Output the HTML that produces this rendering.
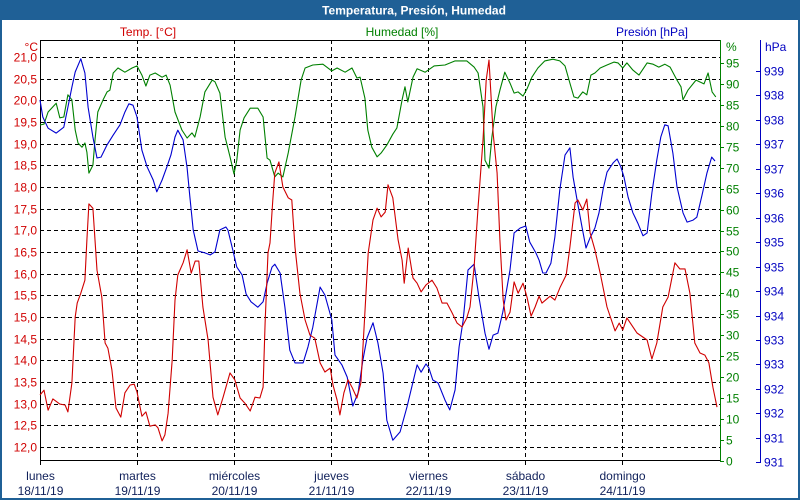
<!DOCTYPE html>
<html><head><meta charset="utf-8">
<style>
html,body{margin:0;padding:0;background:#fff;}
#wrap{position:relative;width:800px;height:500px;overflow:hidden;font-family:"Liberation Sans",sans-serif;}
svg text{font-family:"Liberation Sans",sans-serif;font-size:12px;}
</style></head>
<body>
<div id="wrap">
<svg id="chart" width="800" height="500" viewBox="0 0 800 500">
<rect x="0" y="0" width="800" height="500" fill="#ffffff"/>
<rect x="0" y="0" width="800" height="20" fill="#1f6096"/>
<text x="414" y="14.5" text-anchor="middle" fill="#ffffff" font-weight="bold">Temperatura, Presión, Humedad</text>
<rect x="1" y="1" width="798" height="498" fill="none" stroke="#1f6096" stroke-width="2"/>
<text x="148" y="36" text-anchor="middle" fill="#d00000">Temp. [°C]</text>
<text x="402" y="36" text-anchor="middle" fill="#008000">Humedad [%]</text>
<text x="652" y="36" text-anchor="middle" fill="#0000c0">Presión [hPa]</text>
<text x="38" y="51" text-anchor="end" fill="#d00000">°C</text>
<text x="726" y="51" fill="#008000">%</text>
<text x="765" y="51" fill="#0000c0">hPa</text>
<g id="grid"></g>
<g id="axes"></g>
<g id="series"></g>
</svg>
</div>
<script>
// ---- data ----
const dayNames = ["lunes","martes","miércoles","jueves","viernes","sábado","domingo"];
const dayDates = ["18/11/19","19/11/19","20/11/19","21/11/19","22/11/19","23/11/19","24/11/19"];
const tempTicks = ["12,0","12,5","13,0","13,5","14,0","14,5","15,0","15,5","16,0","16,5","17,0","17,5","18,0","18,5","19,0","19,5","20,0","20,5","21,0"];
const tempTickValues = [12,12.5,13,13.5,14,14.5,15,15.5,16,16.5,17,17.5,18,18.5,19,19.5,20,20.5,21];
const humTickValues = [0,5,10,15,20,25,30,35,40,45,50,55,60,65,70,75,80,85,90,95];
const presTickValues = [931,931.5,932,932.5,933,933.5,934,934.5,935,935.5,936,936.5,937,937.5,938,938.5,939];

const tempHours = [0,1.0,2.0,3.2,4.9,6.2,6.9,7.9,8.7,9.2,10.1,11.1,11.6,12.1,13.1,14.1,15.3,16.1,16.8,17.8,18.8,20.0,21.0,22.3,23.3,24.0,25.2,26.2,27.2,28.5,29.2,30.2,30.9,31.7,32.7,33.4,34.1,35.4,36.4,37.4,38.4,39.3,40.3,41.6,42.8,44.0,45.3,47.0,48.2,49.5,50.7,52.0,53.2,54.4,55.2,55.7,56.4,56.9,57.6,58.1,59.1,60.1,61.4,62.3,63.1,64.3,65.6,66.8,68.0,69.3,70.5,71.8,72.5,73.5,74.2,75.2,76.2,77.2,78.4,79.4,80.2,81.2,82.4,83.4,84.4,85.4,86.1,87.3,88.6,89.6,90.1,91.1,92.3,93.3,94.3,95.5,97.0,98.2,99.5,100.7,101.9,103.2,104.4,105.6,106.4,107.4,108.4,109.6,110.4,111.1,112.1,113.1,113.8,114.6,115.3,116.3,117.3,118.3,119.5,120.5,121.5,122.5,123.5,124.2,126.2,127.4,128.7,130.2,131.1,132.4,133.1,134.3,135.3,136.1,137.3,138.6,140.3,142.3,143.3,144.2,145.2,147.7,150.2,151.4,152.6,154.1,155.4,157.1,158.3,159.6,160.8,162.0,163.3,164.5,165.5,166.5,167.5];
const tempValues = [13.20,13.31,12.85,13.11,12.99,12.97,12.81,13.48,15.00,15.32,15.55,15.85,16.78,17.61,17.51,16.08,15.46,14.40,14.28,13.78,12.90,12.69,13.25,13.43,13.45,13.27,12.71,12.81,12.48,12.51,12.44,12.14,12.28,12.78,14.01,15.39,15.97,16.25,16.55,16.01,16.29,16.29,15.23,14.47,13.15,12.74,13.15,13.71,13.55,13.13,13.01,12.83,13.15,13.13,13.38,14.86,16.48,16.71,17.70,18.32,18.58,18.00,17.75,17.70,16.61,15.55,14.93,14.58,14.51,13.94,13.73,13.82,13.43,13.08,12.74,13.25,13.55,13.38,13.13,13.48,14.77,16.48,17.24,17.51,17.31,17.42,18.05,17.75,16.78,16.31,15.78,16.59,15.90,15.78,15.58,15.74,15.85,15.67,15.32,15.32,15.11,14.86,14.77,14.98,15.23,16.15,17.54,19.08,20.47,20.93,19.25,18.32,16.78,15.39,14.93,15.11,15.81,15.55,15.78,15.46,15.02,15.23,15.48,15.32,15.48,15.39,15.69,15.97,16.61,17.63,17.70,17.47,17.72,16.94,16.55,16.01,15.23,14.68,14.86,14.70,14.98,14.63,14.47,14.03,14.40,15.23,15.46,16.25,16.11,16.11,15.55,14.40,14.17,14.12,13.94,13.38,12.92];

const humHours = [0,1.0,2.0,4.0,4.9,5.9,6.9,7.9,8.7,9.4,10.4,11.1,11.6,12.1,13.1,13.6,14.3,15.6,16.6,17.3,18.1,19.3,21.0,22.8,24.0,25.2,26.2,27.2,28.5,30.2,31.2,32.2,33.4,35.1,36.4,37.6,38.3,39.6,40.8,42.6,43.3,44.5,45.8,47.0,48.0,48.7,49.5,50.5,52.0,53.9,55.2,56.2,56.9,58.1,58.9,60.1,61.4,63.1,64.6,65.6,67.5,70.0,72.2,73.5,75.5,77.2,78.4,79.2,80.4,81.1,82.1,83.4,84.4,85.8,87.3,88.3,89.6,90.3,91.0,92.3,93.3,95.3,97.5,100.2,102.7,105.6,107.4,108.4,109.6,110.1,111.1,111.8,112.8,113.8,115.0,116.3,117.3,118.3,119.5,120.5,121.7,123.2,124.9,126.9,128.6,129.9,131.1,132.1,133.1,134.3,135.3,136.3,137.3,138.6,140.3,142.0,143.0,144.2,145.2,146.7,148.2,150.2,151.7,153.1,154.6,155.9,157.6,158.6,159.1,160.3,162.3,164.3,165.3,166.3,167.2];
const humValues = [80.2,80.4,83.3,85.4,81.9,82.1,87.4,86.2,79.0,75.9,74.9,75.9,73.7,68.7,70.6,76.6,83.3,86.2,88.1,88.5,92.6,93.8,92.8,93.8,94.3,92.1,89.5,92.1,92.6,91.6,92.1,89.7,83.3,79.0,77.1,78.3,77.3,82.1,88.1,90.9,90.5,87.8,77.3,72.6,68.5,71.8,79.0,81.9,84.2,84.2,82.1,72.3,71.8,67.8,68.7,67.8,73.5,82.1,90.9,93.8,94.5,94.7,93.1,93.8,92.8,93.8,91.4,91.6,86.6,79.0,74.9,72.6,73.5,75.4,78.0,79.5,86.2,89.3,85.7,91.6,93.6,92.8,94.3,94.5,95.5,95.5,94.0,92.6,84.5,71.8,69.9,77.3,84.5,88.5,92.8,90.2,87.8,88.1,87.1,88.8,91.6,93.8,95.5,95.9,95.5,94.3,90.2,86.9,86.6,88.1,87.4,92.1,92.6,93.8,94.5,95.2,95.0,93.8,95.0,93.3,92.1,95.0,94.7,94.0,94.7,94.0,90.9,89.3,86.2,88.5,90.9,90.0,92.6,88.1,86.9];

const presHours = [0,0.7,2.0,4.0,5.9,6.9,7.9,8.7,10.1,11.1,11.9,13.1,14.1,15.1,16.6,18.1,19.8,21.0,22.0,23.0,24.0,25.2,26.5,28.0,28.9,30.2,31.4,32.4,33.4,34.1,35.4,36.4,37.1,37.9,39.1,40.8,42.1,43.3,44.5,46.0,46.5,47.7,48.7,50.0,51.0,52.2,53.9,55.2,56.2,57.4,58.1,59.4,60.6,61.8,63.1,65.1,66.3,67.5,69.3,70.5,72.2,73.0,74.7,76.0,77.4,78.7,79.9,80.9,82.4,83.6,84.9,85.8,87.3,89.1,90.8,92.0,93.3,94.3,95.5,96.2,97.2,98.5,100.2,101.4,102.7,103.7,104.7,105.9,107.4,108.6,110.1,111.1,112.1,113.3,114.5,116.3,117.3,118.8,120.2,121.2,122.7,123.5,124.4,125.2,126.4,127.4,128.6,129.9,131.1,131.9,132.9,134.1,135.1,136.1,137.3,138.3,139.3,140.3,141.8,142.8,143.7,144.5,145.5,146.7,147.9,149.2,150.2,151.4,152.6,153.6,154.6,155.4,156.6,157.6,159.1,160.1,161.6,162.5,163.8,165.0,166.2,167.0];
const presValues = [938.41,938.06,937.83,937.73,937.85,938.26,938.67,938.98,939.25,938.96,938.26,937.65,937.22,937.24,937.49,937.69,937.90,938.16,938.33,938.30,938.06,937.38,937.04,936.77,936.53,936.77,937.04,937.28,937.65,937.79,937.59,937.02,936.42,935.75,935.32,935.28,935.24,935.30,935.75,935.81,935.75,935.34,934.99,934.83,934.44,934.28,934.17,934.28,934.66,934.99,935.05,934.87,934.17,933.29,933.03,933.03,933.36,933.76,934.58,934.42,933.91,933.19,932.99,932.74,932.15,932.42,933.09,933.54,933.85,933.44,932.82,931.86,931.45,931.62,932.13,932.54,932.99,932.84,933.01,932.93,932.68,932.62,932.27,932.07,932.48,933.36,933.91,934.93,935.05,934.38,933.64,933.31,933.60,933.64,934.07,934.93,935.69,935.79,935.83,935.50,935.28,935.13,934.87,934.87,935.07,935.61,936.57,937.28,937.43,936.83,936.36,935.81,935.38,935.59,935.79,936.10,936.57,936.93,937.12,937.20,937.04,936.83,936.42,936.10,935.89,935.63,935.69,936.51,937.18,937.65,937.90,937.88,937.32,936.63,936.10,935.91,935.95,936.01,936.46,936.91,937.24,937.16];

// ---- axis functions ----
const X0 = 40, X1 = 719, DAY = 97;
function xAt(h){ return X0 + h * DAY / 24; }
function yTemp(t){ return 57 + (21 - t) * 43.333; }
function yHum(v){ return 461 - v * 4.19; }
function yPres(p){ return 71 + (939 - p) * 48.9; }
function fmtPres(p){ return String(Math.round(p - 0.001)); }

const NS = "http://www.w3.org/2000/svg";
function mk(tag, attrs, parent){
  const e = document.createElementNS(NS, tag);
  for (const k in attrs) e.setAttribute(k, attrs[k]);
  parent.appendChild(e);
  return e;
}
const grid = document.getElementById("grid");
const axes = document.getElementById("axes");
const series = document.getElementById("series");

// horizontal gridlines + temperature labels
tempTickValues.forEach((v, i) => {
  const y = Math.round(yTemp(v)) + 0.5;
  const l = mk("line", {x1: X0, x2: 720, y1: y, y2: y, stroke: "#000", "stroke-dasharray": "4,3", "stroke-width": 1}, grid);
  
  
  const t = mk("text", {x: 37, y: y + 4, "text-anchor": "end", fill: "#d00000"}, axes);
  t.textContent = tempTicks[i];
  
  
});

// vertical day gridlines + labels
dayNames.forEach((d, i) => {
  const x = Math.round(xAt(i * 24)) + 0.5;
  if (i > 0) {
    const l = mk("line", {x1: x, x2: x, y1: 40, y2: 460, stroke: "#000", "stroke-dasharray": "4,3", "stroke-width": 1}, grid);
    
    
  }
  const tk = mk("line", {x1: x, x2: x, y1: 460, y2: 465, stroke: "#000"}, axes);
  
  
  const t1 = mk("text", {x: x, y: 480, "text-anchor": "middle", fill: "#10205a"}, axes);
  t1.textContent = d;
  
  
  const t2 = mk("text", {x: x, y: 495, "text-anchor": "middle", fill: "#10205a"}, axes);
  t2.textContent = dayDates[i];
  
  
});

// plot frame lines
[[40.5,40,40.5,461,"#000"],[40,40.5,720,40.5,"#000"],[40,460.5,720,460.5,"#000"],[720.5,40,720.5,461,"#008000"],[760.5,40,760.5,463,"#0000c0"]].forEach((a, i) => {
  const l = mk("line", {x1: a[0], y1: a[1], x2: a[2], y2: a[3], stroke: a[4], "stroke-width": 1}, axes);
  
  
});

// humidity ticks
humTickValues.forEach(v => {
  const y = Math.round(yHum(v)) + 0.5;
  const l = mk("line", {x1: 720, x2: 724, y1: y, y2: y, stroke: "#008000"}, axes);
  
  
  const t = mk("text", {x: 726, y: y + 4, fill: "#008000"}, axes);
  t.textContent = String(v);
  
  
});

// pressure ticks
presTickValues.forEach(v => {
  const y = Math.round(yPres(v)) + 0.5;
  const l = mk("line", {x1: 756, x2: 760, y1: y, y2: y, stroke: "#0000c0"}, axes);
  
  
  const t = mk("text", {x: 764, y: y + 4, fill: "#0000c0"}, axes);
  t.textContent = fmtPres(v);
  
  
});

function drawLine(hours, vals, yf, color, name){
  const pts = hours.map((h, i) => xAt(h).toFixed(1) + "," + yf(vals[i]).toFixed(1)).join(" ");
  const p = mk("polyline", {points: pts, fill: "none", stroke: color, "stroke-width": 1.1, "stroke-linejoin": "round"}, series);
  
  
}
drawLine(humHours, humValues, yHum, "#008000", "humidity-line");
drawLine(presHours, presValues, yPres, "#0000d0", "pressure-line");
drawLine(tempHours, tempValues, yTemp, "#d00000", "temperature-line");
</script>
</body></html>
